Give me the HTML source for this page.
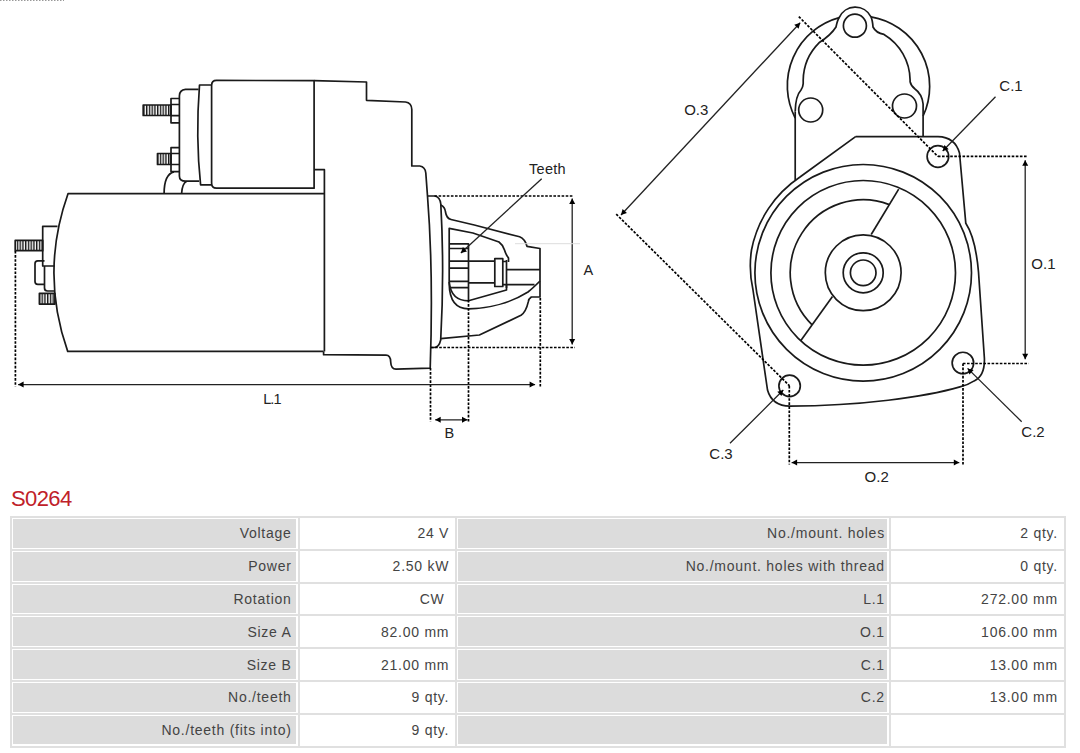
<!DOCTYPE html>
<html><head><meta charset="utf-8">
<style>
html,body{margin:0;padding:0;background:#fff;}
body{width:1080px;height:753px;position:relative;overflow:hidden;font-family:"Liberation Sans",sans-serif;}
svg{position:absolute;left:0;top:0;}
.t{position:absolute;left:11px;top:487px;font-size:22px;line-height:24px;color:#bf2129;letter-spacing:-0.6px;}
.hl{position:absolute;background:#e0e0e0;}
.c{position:absolute;background:#dcdcdc;}
.tx{position:absolute;font-size:14px;color:#444;white-space:nowrap;line-height:16px;letter-spacing:0.75px;}
</style></head><body>
<svg width="1080" height="753" viewBox="0 0 1080 753">
<g fill="none" stroke="#1a1a1a" stroke-width="1.7" stroke-linejoin="round" stroke-linecap="butt">
<path d="M0 0.5 L64 0.5" stroke="#999" stroke-width="1" stroke-dasharray="1.5 1.5"/>
<!-- ===== LEFT: side view ===== -->
<!-- solenoid body -->
<path d="M314.1 80.6 L216.5 80.4 Q211.6 80.4 211.6 85.5 L211.6 183 Q211.6 188.2 216.5 188.2 L314.1 188.2 Z"/>
<!-- flange ring -->
<path d="M211.6 85 L199.5 85 Q195.5 137 200.6 184.9 L211.6 184.9"/>
<!-- end cap -->
<path d="M198.6 89.4 L185.5 89.4 Q179.4 90 179.4 96 L179.4 176 Q179.4 181.2 185.5 181.2 L199.2 181.2"/>
<!-- upper nut + bolt -->
<path d="M179.4 98.5 L171 98.5 L171 122.8 L179.4 122.8 M171 104.5 L179.4 104.5 M171 115.6 L179.4 115.6"/>
<rect x="143.2" y="105" width="27.8" height="10.5"/>
<!-- lower nut + bolt -->
<path d="M179.4 147.7 L171 147.7 L171 171.6 L179.4 171.6 M171 153.5 L179.4 153.5 M171 164.5 L179.4 164.5"/>
<rect x="157.5" y="153.5" width="13.5" height="11"/>
<!-- arcs under solenoid -->
<path d="M164.1 193.5 C164.1 182 167 173.5 174 171.8"/>
<path d="M181.6 193.5 C182 187 183 183 186.5 181.4"/>
<!-- housing outline -->
<path d="M314.1 80.6 L366.5 82 L366.5 100.3 L405.5 102 Q411.6 102.8 411.8 109.5 L411.8 166 L419.8 166 Q425.2 166.8 425.8 173 L427.5 196 Q433.5 272 430.2 368.1 L396 369.2 Q391 369 390.7 362 Q390.5 355.2 386 355.2 L323.6 354.7 L323.6 351.4"/>
<!-- step -->
<path d="M314.1 169.7 L324.4 169.7 L324.4 351.4"/>
<!-- motor body -->
<path d="M324.4 193.7 L68 193.7 Q40 272.5 67.7 351.4 L323.6 351.4"/>
<!-- left terminals -->
<path d="M57.5 226.3 L42.7 226.3 L42.7 266 L54.5 266"/>
<path d="M44.5 266 L44.5 288 Q44.5 291 47.5 291 L55 291"/>
<path d="M44.5 260.9 L37.8 260.9 Q35 260.9 35 263.7 L35 281.5 Q35 284.3 37.8 284.3 L44.5 284.3"/>
<rect x="15.2" y="240.4" width="27.5" height="10.3"/>
<rect x="39.4" y="293.3" width="15.5" height="10.8"/>
<!-- drive flange -->
<path d="M427.5 196 L434.8 196 Q440 197 440.8 204 Q444.5 272 440.7 340 Q439 347.5 434 347.5 L430.8 347.5"/>
<!-- nose outer -->
<path d="M440.8 205 Q445 207 445.5 212 Q446.5 218.5 451 219.5 L474.3 225 L519.6 236.8 Q525 239 527 246.3 L540 248.5 L540 297 L531.3 297 Q528.5 299 528.4 301.4 Q526 312 521 315.3 L479.4 335 L440.7 338.7"/>
<!-- inner housing -->
<path d="M449.2 284 L449.2 228.3 L472.9 233 L499 242 Q503 245 504.5 250 Q506 255 508.5 258 L508.5 262"/>
<path d="M449.2 284 C449.5 300 456 308.8 468.5 308.8 C490 308.5 512 302 528 292 Q533 288 540 281"/>
<path d="M449.2 282 C450.5 295 457 300.8 468.5 300.8 L506.5 290 L506.5 284.6"/>
<!-- pinion teeth box -->
<path d="M449.2 243.8 L468.5 243.8 L468.5 301 M449.2 248.5 L468.5 248.5 M449.2 261.2 L468.5 261.2 M449.2 268.2 L468.5 268.2 M449.2 281.4 L468.5 281.4 M449.2 287.6 L468.5 287.6"/>
<!-- shaft -->
<path d="M468.5 261.2 L494.8 261.2 M468.5 282.8 L494.8 282.8"/>
<rect x="494.8" y="258.7" width="8" height="27.8"/>
<path d="M502.8 261.5 L506.5 261.5 M502.8 284.6 L506.5 284.6 M506.5 269.7 L540 269.7 M506.5 284.6 L534.5 284.6 M506.5 260 L506.5 288"/>
<!-- ===== RIGHT: end view ===== -->
<!-- outer arc top -->
<path d="M795.2 118 A70.5 70.5 0 0 1 839.2 17.6"/>
<path d="M871 16.8 A70.5 70.5 0 0 1 923.1 116"/>
<!-- lobe + inner contour -->
<path d="M795.2 111.5 Q795.5 96 801 90 Q803 87 803.2 83.6 L803.2 80 A54 54 0 0 1 819 42.8 Q831 35 836 27 Q837.5 20 839.2 17.6 A17.6 17.6 0 0 1 871 16.8 Q872.5 20 873 27 Q876 33 884 34.4 A54 54 0 0 1 910.1 80 L910.1 81.8 Q911 86 915 89 Q922 94 923.1 104"/>
<!-- holes -->
<circle cx="854.9" cy="25.7" r="11.5"/>
<circle cx="810.7" cy="110" r="12"/>
<circle cx="904.5" cy="106" r="12"/>
<!-- verticals -->
<path d="M795.2 111.5 L795.2 180"/>
<path d="M923.1 104 L923.1 136.6"/>
<!-- flange outline -->
<path d="M855.6 136.6 L938 136.6 Q955 137 959.5 153 L965.8 223.3 Q975.5 238 978.5 272 L984.4 358.2 Q985 376 974.2 380.9 Q968 385 959.9 386.9 C925 397 860 406 790 406.1 Q772 406 767.5 390 L765 372.9 L753 290 Q748.5 270 751.5 250 A113.5 113.5 0 0 1 800 177 L855.6 136.6"/>
<!-- circles -->
<circle cx="863.2" cy="272.8" r="108.3"/>
<circle cx="863.2" cy="272.8" r="92.3"/>
<circle cx="863.2" cy="272.8" r="37.9"/>
<circle cx="863.2" cy="272.8" r="20"/>
<circle cx="863.2" cy="272.8" r="12.8"/>
<!-- partial arc r=73.5 -->
<path d="M889.3 204.6 A73 73 0 0 0 812.1 324.9"/>
<!-- diagonal -->
<path d="M898.7 189.1 L871.2 234.5"/>
<path d="M832.5 296.6 L800.7 340.8"/>
<!-- mount holes -->
<circle cx="937.9" cy="156.5" r="10.8"/>
<circle cx="962.9" cy="363" r="10.75"/>
<circle cx="789.6" cy="385.9" r="10.7"/>

</g>
<defs>
<pattern id="hb" patternUnits="userSpaceOnUse" width="2.75" height="10" x="0.3" y="0"><rect x="0" y="0" width="1.4" height="10" fill="#1a1a1a"/></pattern>
</defs>
<!-- hatched bolts -->
<rect x="143.2" y="105" width="27.8" height="10.5" fill="url(#hb)"/>
<rect x="157.5" y="153.5" width="13.5" height="11" fill="url(#hb)"/>
<rect x="15.2" y="240.4" width="27.5" height="10.3" fill="url(#hb)"/>
<rect x="39.4" y="293.3" width="15.5" height="10.8" fill="url(#hb)"/>
<g font-family="Liberation Sans, sans-serif" font-size="14.5" fill="#222" letter-spacing="0.3">
<text x="529" y="173.6">Teeth</text>
<text x="583.5" y="274.7">A</text>
<text x="263.3" y="404" style="letter-spacing:-1px">L.1</text>
<text x="444.5" y="437.5">B</text>
</g>
<g font-family="Liberation Sans, sans-serif" font-size="15" fill="#222">
<text x="684.2" y="115.4">O.3</text>
<text x="999.3" y="91.3">C.1</text>
<text x="1031.3" y="269.1">O.1</text>
<text x="1021.3" y="436.8">C.2</text>
<text x="709.3" y="459.3">C.3</text>
<text x="864.6" y="481.6">O.2</text>
</g>
<g fill="none" stroke="#000" stroke-width="1.7" stroke-dasharray="2.6 1.5">
<path d="M15.40 251.00 L15.40 386.50"/>
<path d="M540.30 298.00 L540.30 386.50"/>
<path d="M434.50 196.00 L572.70 196.00"/>
<path d="M431.00 347.50 L575.00 347.50"/>
<path d="M468.50 300.00 L468.50 421.50"/>
<path d="M430.50 368.00 L430.50 421.50"/>
<path d="M798.80 16.60 L937.90 156.50"/>
<path d="M616.20 214.10 L789.60 385.90"/>
<path d="M937.90 156.40 L1028.00 156.40"/>
<path d="M962.90 363.50 L1028.70 363.50"/>
<path d="M963.00 363.50 L963.00 465.50"/>
<path d="M789.30 385.90 L789.30 464.50"/>
</g>
<g fill="none" stroke="#222" stroke-width="1.3">
<path d="M18.10 384.60 L535.10 384.60"/>
<path d="M572.20 198.50 L572.20 344.50"/>
<path d="M435.20 419.80 L467.50 419.80"/>
<path d="M1025.20 160.30 L1025.20 359.30"/>
<path d="M791.60 462.60 L959.30 462.60"/>
<path d="M621.00 215.00 L800.20 22.70"/>
<path d="M541.70 178.70 L460.90 252.90"/>
<path d="M995.50 96.80 L942.70 151.00"/>
<path d="M1021.70 421.70 L967.60 368.40"/>
<path d="M730.00 443.30 L783.30 390.00"/>
</g>
<g fill="#000" stroke="none">
<path d="M18.10 384.60 L23.60 381.60 L23.60 387.60 Z"/>
<path d="M535.10 384.60 L529.60 387.60 L529.60 381.60 Z"/>
<path d="M572.20 198.50 L575.20 204.00 L569.20 204.00 Z"/>
<path d="M572.20 344.50 L569.20 339.00 L575.20 339.00 Z"/>
<path d="M435.20 419.80 L440.70 416.80 L440.70 422.80 Z"/>
<path d="M467.50 419.80 L462.00 422.80 L462.00 416.80 Z"/>
<path d="M1025.20 160.30 L1028.20 165.80 L1022.20 165.80 Z"/>
<path d="M1025.20 359.30 L1022.20 353.80 L1028.20 353.80 Z"/>
<path d="M791.60 462.60 L797.10 459.60 L797.10 465.60 Z"/>
<path d="M959.30 462.60 L953.80 465.60 L953.80 459.60 Z"/>
<path d="M621.00 215.00 L622.55 208.93 L626.94 213.02 Z"/>
<path d="M800.20 22.70 L798.65 28.77 L794.26 24.68 Z"/>
<path d="M460.90 252.90 L462.92 246.97 L466.98 251.39 Z"/>
<path d="M942.70 151.00 L944.39 144.97 L948.69 149.15 Z"/>
<path d="M967.60 368.40 L973.62 370.12 L969.41 374.40 Z"/>
<path d="M783.30 390.00 L781.53 396.01 L777.29 391.77 Z"/>
</g>
<path d="M515 243.7 L580 243.7" stroke="#ddd" stroke-width="1" fill="none"/>
</svg>
<div class="t">S0264</div>
<div class="c" style="left:13.00px;top:519.00px;width:283.00px;height:28.79px"></div>
<div class="c" style="left:458.20px;top:519.00px;width:429.10px;height:28.79px"></div>
<div class="c" style="left:13.00px;top:551.79px;width:283.00px;height:28.79px"></div>
<div class="c" style="left:458.20px;top:551.79px;width:429.10px;height:28.79px"></div>
<div class="c" style="left:13.00px;top:584.57px;width:283.00px;height:28.79px"></div>
<div class="c" style="left:458.20px;top:584.57px;width:429.10px;height:28.79px"></div>
<div class="c" style="left:13.00px;top:617.36px;width:283.00px;height:28.79px"></div>
<div class="c" style="left:458.20px;top:617.36px;width:429.10px;height:28.79px"></div>
<div class="c" style="left:13.00px;top:650.14px;width:283.00px;height:28.79px"></div>
<div class="c" style="left:458.20px;top:650.14px;width:429.10px;height:28.79px"></div>
<div class="c" style="left:13.00px;top:682.93px;width:283.00px;height:28.79px"></div>
<div class="c" style="left:458.20px;top:682.93px;width:429.10px;height:28.79px"></div>
<div class="c" style="left:13.00px;top:715.71px;width:283.00px;height:28.79px"></div>
<div class="c" style="left:458.20px;top:715.71px;width:429.10px;height:28.79px"></div>
<div class="hl" style="left:10px;top:516.00px;width:1055.90px;height:2px"></div>
<div class="hl" style="left:10px;top:548.79px;width:1055.90px;height:2px"></div>
<div class="hl" style="left:10px;top:581.57px;width:1055.90px;height:2px"></div>
<div class="hl" style="left:10px;top:614.36px;width:1055.90px;height:2px"></div>
<div class="hl" style="left:10px;top:647.14px;width:1055.90px;height:2px"></div>
<div class="hl" style="left:10px;top:679.93px;width:1055.90px;height:2px"></div>
<div class="hl" style="left:10px;top:712.71px;width:1055.90px;height:2px"></div>
<div class="hl" style="left:10px;top:745.50px;width:1055.90px;height:2px"></div>
<div class="hl" style="left:10px;top:516.0px;width:2px;height:231.50px"></div>
<div class="hl" style="left:297.6px;top:516.0px;width:2px;height:231.50px"></div>
<div class="hl" style="left:455.2px;top:516.0px;width:2px;height:231.50px"></div>
<div class="hl" style="left:888.9px;top:516.0px;width:2px;height:231.50px"></div>
<div class="hl" style="left:1063.9px;top:516.0px;width:2px;height:231.50px"></div>
<div class="tx" style="right:788.40px;top:525.20px">Voltage</div>
<div class="tx" style="right:630.80px;top:525.20px">24 V</div>
<div class="tx" style="right:195.10px;top:525.20px">No./mount. holes</div>
<div class="tx" style="right:22.10px;top:525.20px">2 qty.</div>
<div class="tx" style="right:788.40px;top:558.05px">Power</div>
<div class="tx" style="right:630.80px;top:558.05px">2.50 kW</div>
<div class="tx" style="right:195.10px;top:558.05px">No./mount. holes with thread</div>
<div class="tx" style="right:22.10px;top:558.05px">0 qty.</div>
<div class="tx" style="right:788.40px;top:590.90px">Rotation</div>
<div class="tx" style="right:630.80px;top:590.90px">CW </div>
<div class="tx" style="right:195.10px;top:590.90px">L.1</div>
<div class="tx" style="right:22.10px;top:590.90px">272.00 mm</div>
<div class="tx" style="right:788.40px;top:623.75px">Size A</div>
<div class="tx" style="right:630.80px;top:623.75px">82.00 mm</div>
<div class="tx" style="right:195.10px;top:623.75px">O.1</div>
<div class="tx" style="right:22.10px;top:623.75px">106.00 mm</div>
<div class="tx" style="right:788.40px;top:656.60px">Size B</div>
<div class="tx" style="right:630.80px;top:656.60px">21.00 mm</div>
<div class="tx" style="right:195.10px;top:656.60px">C.1</div>
<div class="tx" style="right:22.10px;top:656.60px">13.00 mm</div>
<div class="tx" style="right:788.40px;top:689.45px">No./teeth</div>
<div class="tx" style="right:630.80px;top:689.45px">9 qty.</div>
<div class="tx" style="right:195.10px;top:689.45px">C.2</div>
<div class="tx" style="right:22.10px;top:689.45px">13.00 mm</div>
<div class="tx" style="right:788.40px;top:722.30px">No./teeth (fits into)</div>
<div class="tx" style="right:630.80px;top:722.30px">9 qty.</div>
</body></html>
